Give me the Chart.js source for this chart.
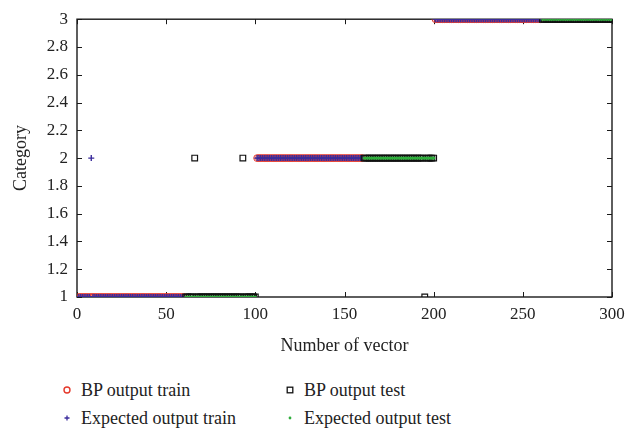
<!DOCTYPE html>
<html>
<head>
<meta charset="utf-8">
<script src="https://cdn.jsdelivr.net/npm/chart.js@4/dist/chart.umd.min.js"></script>
<style>
  body { margin: 0; background: #fff; font-family: 'Liberation Serif', serif; color: #222; }
  #wrap { position: relative; width: 626px; height: 430px; }
  #chartBox { position: absolute; left: 0; top: 0; width: 626px; height: 362px; }
  .legend-item { position: absolute; display: flex; align-items: center; height: 24px; font-size: 18px; white-space: nowrap; }
  .legend-item svg { width: 10px; height: 10px; margin-right: 9px; }
</style>
</head>
<body>
<div id="wrap">
  <div id="chartBox"><canvas id="bpChart"></canvas></div>
  <div class="legend-item" style="left:62px; top:378px;">
    <svg viewBox="0 0 10 10"><circle cx="5" cy="5" r="3" fill="none" stroke="#e5392b" stroke-width="1.4"/></svg>BP output train
  </div>
  <div class="legend-item" style="left:62px; top:406px;">
    <svg viewBox="0 0 10 10"><path d="M5 2.5V7.5M2.5 5H7.5" stroke="#3b2c9c" stroke-width="1.3"/></svg>Expected output train
  </div>
  <div class="legend-item" style="left:285px; top:378px;">
    <svg viewBox="0 0 10 10"><rect x="2.2" y="2.2" width="5.6" height="5.6" fill="none" stroke="#111" stroke-width="1.3"/></svg>BP output test
  </div>
  <div class="legend-item" style="left:285px; top:406px;">
    <svg viewBox="0 0 10 10"><circle cx="5" cy="5" r="1.4" fill="#2fae3c"/></svg>Expected output test
  </div>
</div>
<script>
// vector numbers belonging to the training and test sets
const trainBlocks = [[1, 60], [101, 160], [201, 260]];
const testBlocks = [[61, 100], [161, 200], [261, 300]];

// network output / expected category for each training vector
const bpTrain = [
  1,1,1,1,1,1,1,1,1,1,1,1,1,1,1,1,1,1,1,1,
  1,1,1,1,1,1,1,1,1,1,1,1,1,1,1,1,1,1,1,1,
  1,1,1,1,1,1,1,1,1,1,1,1,1,1,1,1,1,1,1,1,
  2,2,2,2,2,2,2,2,2,2,2,2,2,2,2,2,2,2,2,2,
  2,2,2,2,2,2,2,2,2,2,2,2,2,2,2,2,2,2,2,2,
  2,2,2,2,2,2,2,2,2,2,2,2,2,2,2,2,2,2,2,2,
  3,3,3,3,3,3,3,3,3,3,3,3,3,3,3,3,3,3,3,3,
  3,3,3,3,3,3,3,3,3,3,3,3,3,3,3,3,3,3,3,3,
  3,3,3,3,3,3,3,3,3,3,3,3,3,3,3,3,3,3,3,3
];
const expectedTrain = [
  1,1,1,1,1,1,1,2,1,1,1,1,1,1,1,1,1,1,1,1,
  1,1,1,1,1,1,1,1,1,1,1,1,1,1,1,1,1,1,1,1,
  1,1,1,1,1,1,1,1,1,1,1,1,1,1,1,1,1,1,1,1,
  2,2,2,2,2,2,2,2,2,2,2,2,2,2,2,2,2,2,2,2,
  2,2,2,2,2,2,2,2,2,2,2,2,2,2,2,2,2,2,2,2,
  2,2,2,2,2,2,2,2,2,2,2,2,2,2,2,2,2,2,2,2,
  3,3,3,3,3,3,3,3,3,3,3,3,3,3,3,3,3,3,3,3,
  3,3,3,3,3,3,3,3,3,3,3,3,3,3,3,3,3,3,3,3,
  3,3,3,3,3,3,3,3,3,3,3,3,3,3,3,3,3,3,3,3
];

// network output / expected category for each test vector
const bpTest = [
  1,1,1,1,1,2,1,1,1,1,1,1,1,1,1,1,1,1,1,1,
  1,1,1,1,1,1,1,1,1,1,1,1,2,1,1,1,1,1,1,1,
  2,2,2,2,2,2,2,2,2,2,2,2,2,2,2,2,2,2,2,2,
  2,2,2,2,2,2,2,2,2,2,2,2,2,2,1,2,2,2,2,2,
  3,3,3,3,3,3,3,3,3,3,3,3,3,3,3,3,3,3,3,3,
  3,3,3,3,3,3,3,3,3,3,3,3,3,3,3,3,3,3,3,3
];
const expectedTest = [
  1,1,1,1,1,1,1,1,1,1,1,1,1,1,1,1,1,1,1,1,
  1,1,1,1,1,1,1,1,1,1,1,1,1,1,1,1,1,1,1,1,
  2,2,2,2,2,2,2,2,2,2,2,2,2,2,2,2,2,2,2,2,
  2,2,2,2,2,2,2,2,2,2,2,2,2,2,2,2,2,2,2,2,
  3,3,3,3,3,3,3,3,3,3,3,3,3,3,3,3,3,3,3,3,
  3,3,3,3,3,3,3,3,3,3,3,3,3,3,3,3,3,3,3,3
];

const xTicks = [0, 50, 100, 150, 200, 250, 300];
const FONT = "'Liberation Serif', serif";

function vectorNumbers(blocks) {
  const out = [];
  blocks.forEach(([from, to]) => { for (let n = from; n <= to; n++) out.push(n); });
  return out;
}

function toPoints(xs, ys) {
  return xs.map((x, i) => ({ x, y: ys[i] }));
}

const trainX = vectorNumbers(trainBlocks);
const testX = vectorNumbers(testBlocks);

// plot frame with ticks pointing inwards on all four sides
const framePlugin = {
  id: 'frame',
  beforeDatasetsDraw(chart) {
    const { ctx, chartArea: a, scales: { x, y } } = chart;
    const len = 5;
    ctx.save();
    ctx.strokeStyle = '#1a1a1a';
    ctx.lineWidth = 1.4;
    ctx.strokeRect(a.left, a.top, a.right - a.left, a.bottom - a.top);
    ctx.lineWidth = 1;
    ctx.beginPath();
    x.ticks.forEach(t => {
      const px = Math.round(x.getPixelForValue(t.value)) + 0.5;
      ctx.moveTo(px, a.bottom); ctx.lineTo(px, a.bottom - len);
      ctx.moveTo(px, a.top); ctx.lineTo(px, a.top + len);
    });
    y.ticks.forEach(t => {
      const py = Math.round(y.getPixelForValue(t.value)) + 0.5;
      ctx.moveTo(a.left, py); ctx.lineTo(a.left + len, py);
      ctx.moveTo(a.right, py); ctx.lineTo(a.right - len, py);
    });
    ctx.stroke();
    ctx.restore();
  }
};

new Chart(document.getElementById('bpChart'), {
  type: 'scatter',
  data: {
    datasets: [
      { label: 'BP output train', data: toPoints(trainX, bpTrain), order: 4,
        pointStyle: 'circle', pointRadius: 3.4, pointBorderWidth: 1,
        borderColor: '#e5392b', backgroundColor: 'rgba(0,0,0,0)' },
      { label: 'Expected output train', data: toPoints(trainX, expectedTrain), order: 3,
        pointStyle: 'cross', pointRadius: 3, pointBorderWidth: 1.4,
        borderColor: '#3b2c9c', backgroundColor: '#3b2c9c' },
      { label: 'BP output test', data: toPoints(testX, bpTest), order: 2,
        pointStyle: 'rect', pointRadius: 4, pointBorderWidth: 1.2,
        borderColor: '#111', backgroundColor: 'rgba(0,0,0,0)' },
      { label: 'Expected output test', data: toPoints(testX, expectedTest), order: 1,
        pointStyle: 'circle', pointRadius: 1.6, pointBorderWidth: 0,
        borderColor: '#2fae3c', backgroundColor: '#2fae3c' }
    ]
  },
  options: {
    responsive: true,
    maintainAspectRatio: false,
    animation: false,
    layout: { padding: { top: 17, right: 0, left: 0, bottom: 0 } },
    plugins: { legend: { display: false }, tooltip: { enabled: false } },
    scales: {
      x: {
        type: 'linear', min: 0, max: 300,
        afterBuildTicks: s => { s.ticks = xTicks.map(v => ({ value: v })); },
        // fixed axis height; leave just enough room on the right for "300"
        afterFit: s => { s.height = 65; s.paddingRight = 14; s.paddingLeft = 0; },
        grid: { display: false, drawTicks: false },
        border: { display: false },
        ticks: { color: '#222', padding: 7, font: { family: FONT, size: 17 } },
        title: { display: true, text: 'Number of vector', color: '#222',
          font: { family: FONT, size: 18 }, padding: { top: 0, bottom: 5 } }
      },
      y: {
        type: 'linear', min: 1, max: 3,
        ticks: { stepSize: 0.2, color: '#222', padding: 9, font: { family: FONT, size: 17 },
          callback: v => String(Number(v.toFixed(1))) },
        afterFit: s => { s.width = 77; },
        grid: { display: false, drawTicks: false },
        border: { display: false },
        title: { display: true, text: 'Category', color: '#222',
          font: { family: FONT, size: 18 }, padding: { top: 10, bottom: 0 } }
      }
    }
  },
  plugins: [framePlugin]
});
</script>
</body>
</html>
